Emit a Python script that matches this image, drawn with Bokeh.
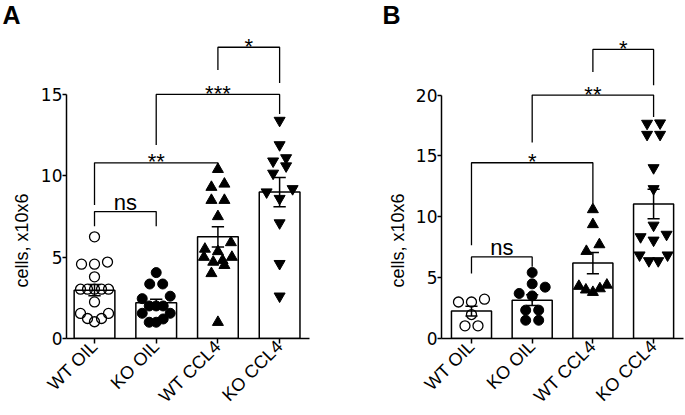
import numpy as np
from math import pi
from bokeh.plotting import figure
from bokeh.layouts import row
from bokeh.models import FixedTicker, Range1d
from bokeh.embed import file_html
from bokeh.resources import INLINE
from bokeh.core.properties import value

# ---------------- data ----------------
groups = ["WT OIL", "KO OIL", "WT CCL4", "KO CCL4"]
y_title = "cells, x10x6"

# Panel A (cells, x10x6)
a_wt_oil = [6.25, 4.57, 4.7, 4.57, 3.79, 3.03, 3.03, 3.03, 3.03, 3.03, 2.25, 1.54, 1.54, 1.23, 1.23, 1.03]
a_ko_oil = [4.05, 3.35, 3.35, 2.6, 2.45, 2.0, 2.0, 2.0, 1.55, 1.55, 1.2, 1.0, 1.0]
a_wt_ccl4 = [10.4, 9.5, 9.3, 8.5, 8.5, 7.5, 5.9, 5.5, 5.35, 5.0, 5.0, 4.8, 4.7, 4.5, 4.0, 1.0]
a_ko_ccl4 = [13.4, 11.9, 11.1, 10.9, 10.6, 10.15, 9.2, 9.0, 8.6, 7.1, 4.6, 2.6]
a_means = [2.97, 2.2, 6.25, 9.0]
a_sem = [0.35, 0.22, 0.62, 0.9]
a_yticks = [0, 5, 10, 15]
# significance brackets: (group i, group j, bar level, left leg end, right leg end, label)
a_sig_i = [0, 0, 1, 2]
a_sig_j = [1, 2, 3, 3]
a_sig_top = [7.8, 10.8, 15.0, 17.9]
a_sig_left = [6.9, 8.2, 11.9, 16.5]
a_sig_right = [6.9, 10.6, 13.8, 15.7]
a_sig_text = ["ns", "**", "***", "*"]

# Panel B
b_wt_oil = [3.0, 3.0, 3.23, 1.97, 1.04, 1.04]
b_ko_oil = [5.42, 4.49, 4.22, 3.7, 3.5, 2.33, 2.33, 1.5, 1.5]
b_wt_ccl4 = [10.6, 9.37, 7.72, 7.17, 4.4, 4.1, 3.8, 4.0, 4.3]
b_ko_ccl4 = [17.67, 17.7, 16.76, 16.76, 14.02, 12.3, 9.3, 8.35, 8.07, 8.55, 6.85, 6.38, 6.38, 6.85]
b_means = [2.25, 3.15, 6.2, 11.05]
b_sem = [0.4, 0.44, 0.87, 1.22]
b_yticks = [0, 5, 10, 15, 20]
b_sig_i = [0, 0, 1, 2]
b_sig_j = [1, 2, 3, 3]
b_sig_top = [6.7, 14.44, 20.0, 23.75]
b_sig_left = [5.34, 7.67, 16.1, 21.9]
b_sig_right = [5.9, 11.1, 18.2, 20.8]
b_sig_text = ["ns", "*", "**", "*"]

FONT = "Liberation Sans"
TICKFONT = "DejaVu Sans"
MARKERS = ["circle", "circle", "triangle", "inverted_triangle"]
FILLS = [None, "black", "black", "black"]
FRAME_H = 338      # frames span from the top of the page to the x axis
BOTTOM = 76        # room for the rotated category labels


def swarm(vals, px_x, px_y, d=10.0, step=13.0, maxw=28.0):
    """GraphPad-like row scatter: points closer than d px vertically share a row."""
    vals = np.asarray(vals, dtype=float)
    order = np.argsort(vals, kind="stable")
    v = vals[order]
    rows, cur = [], [0]
    for k in range(1, len(v)):
        if (v[k] - v[cur[0]]) * px_y < d:
            cur.append(k)
        else:
            rows.append(cur)
            cur = [k]
    rows.append(cur)
    xs = np.zeros(len(v))
    for r in rows:
        n = len(r)
        if n == 1:
            continue
        s = min(step, maxw / (n - 1))
        offs = (np.arange(n) - (n - 1) / 2) * s
        offs = offs[np.argsort(np.abs(offs), kind="stable")]
        for idx, o in zip(r, offs):
            xs[idx] = o / px_x
    out = np.zeros(len(v))
    out[order] = xs
    return out


def side_strip(letter, width, letter_x, label_x, label_bottom):
    """Narrow strip (pixel coordinates, y measured up from the x-axis level)
    holding the panel letter and the rotated y title."""
    s = figure(frame_width=width, frame_height=FRAME_H,
               x_range=Range1d(0, width), y_range=Range1d(0, FRAME_H),
               min_border_left=0, min_border_right=0,
               min_border_top=0, min_border_bottom=BOTTOM, x_axis_type=None,
               y_axis_type=None, output_backend="svg", toolbar_location=None)
    s.outline_line_color = None
    s.grid.visible = False
    s.background_fill_color = "white"
    s.border_fill_color = "white"
    s.text(x=[letter_x], y=[FRAME_H - 14], text=[letter], text_font=value(FONT),
           text_font_size="25px", text_font_style="bold", text_align="left",
           text_baseline="middle", text_color="black")
    s.text(x=[label_x], y=[FRAME_H - label_bottom], text=[y_title], text_font=value(FONT),
           text_font_size="18px", angle=pi / 2, text_align="left",
           text_baseline="middle", text_color="black")
    return s


def panel(data, means, sems, yticks, sig, x_lo, frame_w, px_x, px_y, ml, mr):
    x_hi = x_lo + frame_w / px_x
    y_hi = FRAME_H / px_y
    p = figure(frame_width=frame_w, frame_height=FRAME_H,
               min_border_left=ml, min_border_right=mr,
               min_border_top=0, min_border_bottom=BOTTOM,
               x_range=Range1d(x_lo, x_hi), y_range=Range1d(0, y_hi),
               output_backend="svg", toolbar_location=None)
    p.grid.visible = False
    p.outline_line_color = None
    p.background_fill_color = "white"
    p.border_fill_color = "white"

    pos = list(range(len(groups)))
    p.vbar(x=pos, top=means, width=0.66, fill_color="white",
           line_color="black", line_width=1.5)

    for i, vals in enumerate(data):
        off = swarm(vals, px_x, px_y)
        xs = [pos[i] + o for o in off]
        if FILLS[i] is None:
            p.scatter(xs, vals, marker=MARKERS[i], size=10, fill_color=None,
                      line_color="black", line_width=1.3)
        else:
            sz = 10 if MARKERS[i] == "circle" else 11
            p.scatter(xs, vals, marker=MARKERS[i], size=sz,
                      fill_color=FILLS[i], line_color=FILLS[i], line_width=1)

    lo = [m - s for m, s in zip(means, sems)]
    hi = [m + s for m, s in zip(means, sems)]
    cap = 0.1
    p.segment(x0=pos, y0=lo, x1=pos, y1=hi, line_color="black", line_width=1.5)
    p.segment(x0=[x - cap for x in pos], y0=hi, x1=[x + cap for x in pos], y1=hi,
              line_color="black", line_width=1.5)
    p.segment(x0=[x - cap for x in pos], y0=lo, x1=[x + cap for x in pos], y1=lo,
              line_color="black", line_width=1.5)

    si, sj, stop, sl, sr, stext = sig
    bxs = [[pos[a], pos[a], pos[b], pos[b]] for a, b in zip(si, sj)]
    bys = [[l, t, t, r] for t, l, r in zip(stop, sl, sr)]
    p.multi_line(bxs, bys, line_color="black", line_width=1.3)
    mids = [(pos[a] + pos[b]) / 2 for a, b in zip(si, sj)]
    ns_idx = [k for k, t in enumerate(stext) if t == "ns"]
    st_idx = [k for k, t in enumerate(stext) if t != "ns"]
    p.text(x=[mids[k] for k in ns_idx], y=[stop[k] for k in ns_idx],
           text=[stext[k] for k in ns_idx], text_font=value(FONT),
           text_font_size="22px", text_align="center", text_baseline="middle",
           y_offset=-9.5, text_color="black")
    p.text(x=[mids[k] for k in st_idx], y=[stop[k] for k in st_idx],
           text=[stext[k] for k in st_idx], text_font=value(FONT),
           text_font_size="22px", text_align="center", text_baseline="middle",
           y_offset=-1.1, text_color="black")

    # axes
    p.xaxis.ticker = FixedTicker(ticks=pos)
    p.xaxis.major_label_overrides = {i: g for i, g in enumerate(groups)}
    p.xaxis.major_label_orientation = pi / 4
    p.xaxis.major_label_text_font = FONT
    p.xaxis.major_label_text_font_size = "18px"
    p.xaxis.major_label_text_color = "black"
    p.xaxis.major_label_standoff = 0
    p.xaxis.minor_tick_line_color = None
    p.xaxis.major_tick_in = 0
    p.xaxis.major_tick_out = 5
    p.yaxis.ticker = FixedTicker(ticks=yticks)
    p.yaxis.bounds = (yticks[0], yticks[-1])
    p.yaxis.major_label_text_font = TICKFONT
    p.yaxis.major_label_text_font_size = "17px"
    p.yaxis.major_label_text_color = "black"
    p.yaxis.major_label_standoff = 0
    p.yaxis.minor_tick_line_color = None
    p.yaxis.major_tick_in = 0
    p.yaxis.major_tick_out = 4
    for ax in (p.xaxis, p.yaxis):
        ax.axis_line_color = "black"
        ax.axis_line_width = 1.5
        ax.major_tick_line_color = "black"
        ax.major_tick_line_width = 1.5
    return p


sa = side_strip("A", 33, 2, 21.5, 287)
pa = panel([a_wt_oil, a_ko_oil, a_wt_ccl4, a_ko_ccl4], a_means, a_sem, a_yticks,
           (a_sig_i, a_sig_j, a_sig_top, a_sig_left, a_sig_right, a_sig_text),
           x_lo=-0.454, frame_w=243, px_x=61.7, px_y=16.27, ml=33, mr=71)
sb = side_strip("B", 30, 2, 17, 287)
pb = panel([b_wt_oil, b_ko_oil, b_wt_ccl4, b_ko_ccl4], b_means, b_sem, b_yticks,
           (b_sig_i, b_sig_j, b_sig_top, b_sig_left, b_sig_right, b_sig_text),
           x_lo=-0.494, frame_w=242, px_x=60.7, px_y=12.17, ml=31, mr=1)

layout = row(sa, pa, sb, pb)
open("out.html", "w").write(file_html(layout, INLINE))
